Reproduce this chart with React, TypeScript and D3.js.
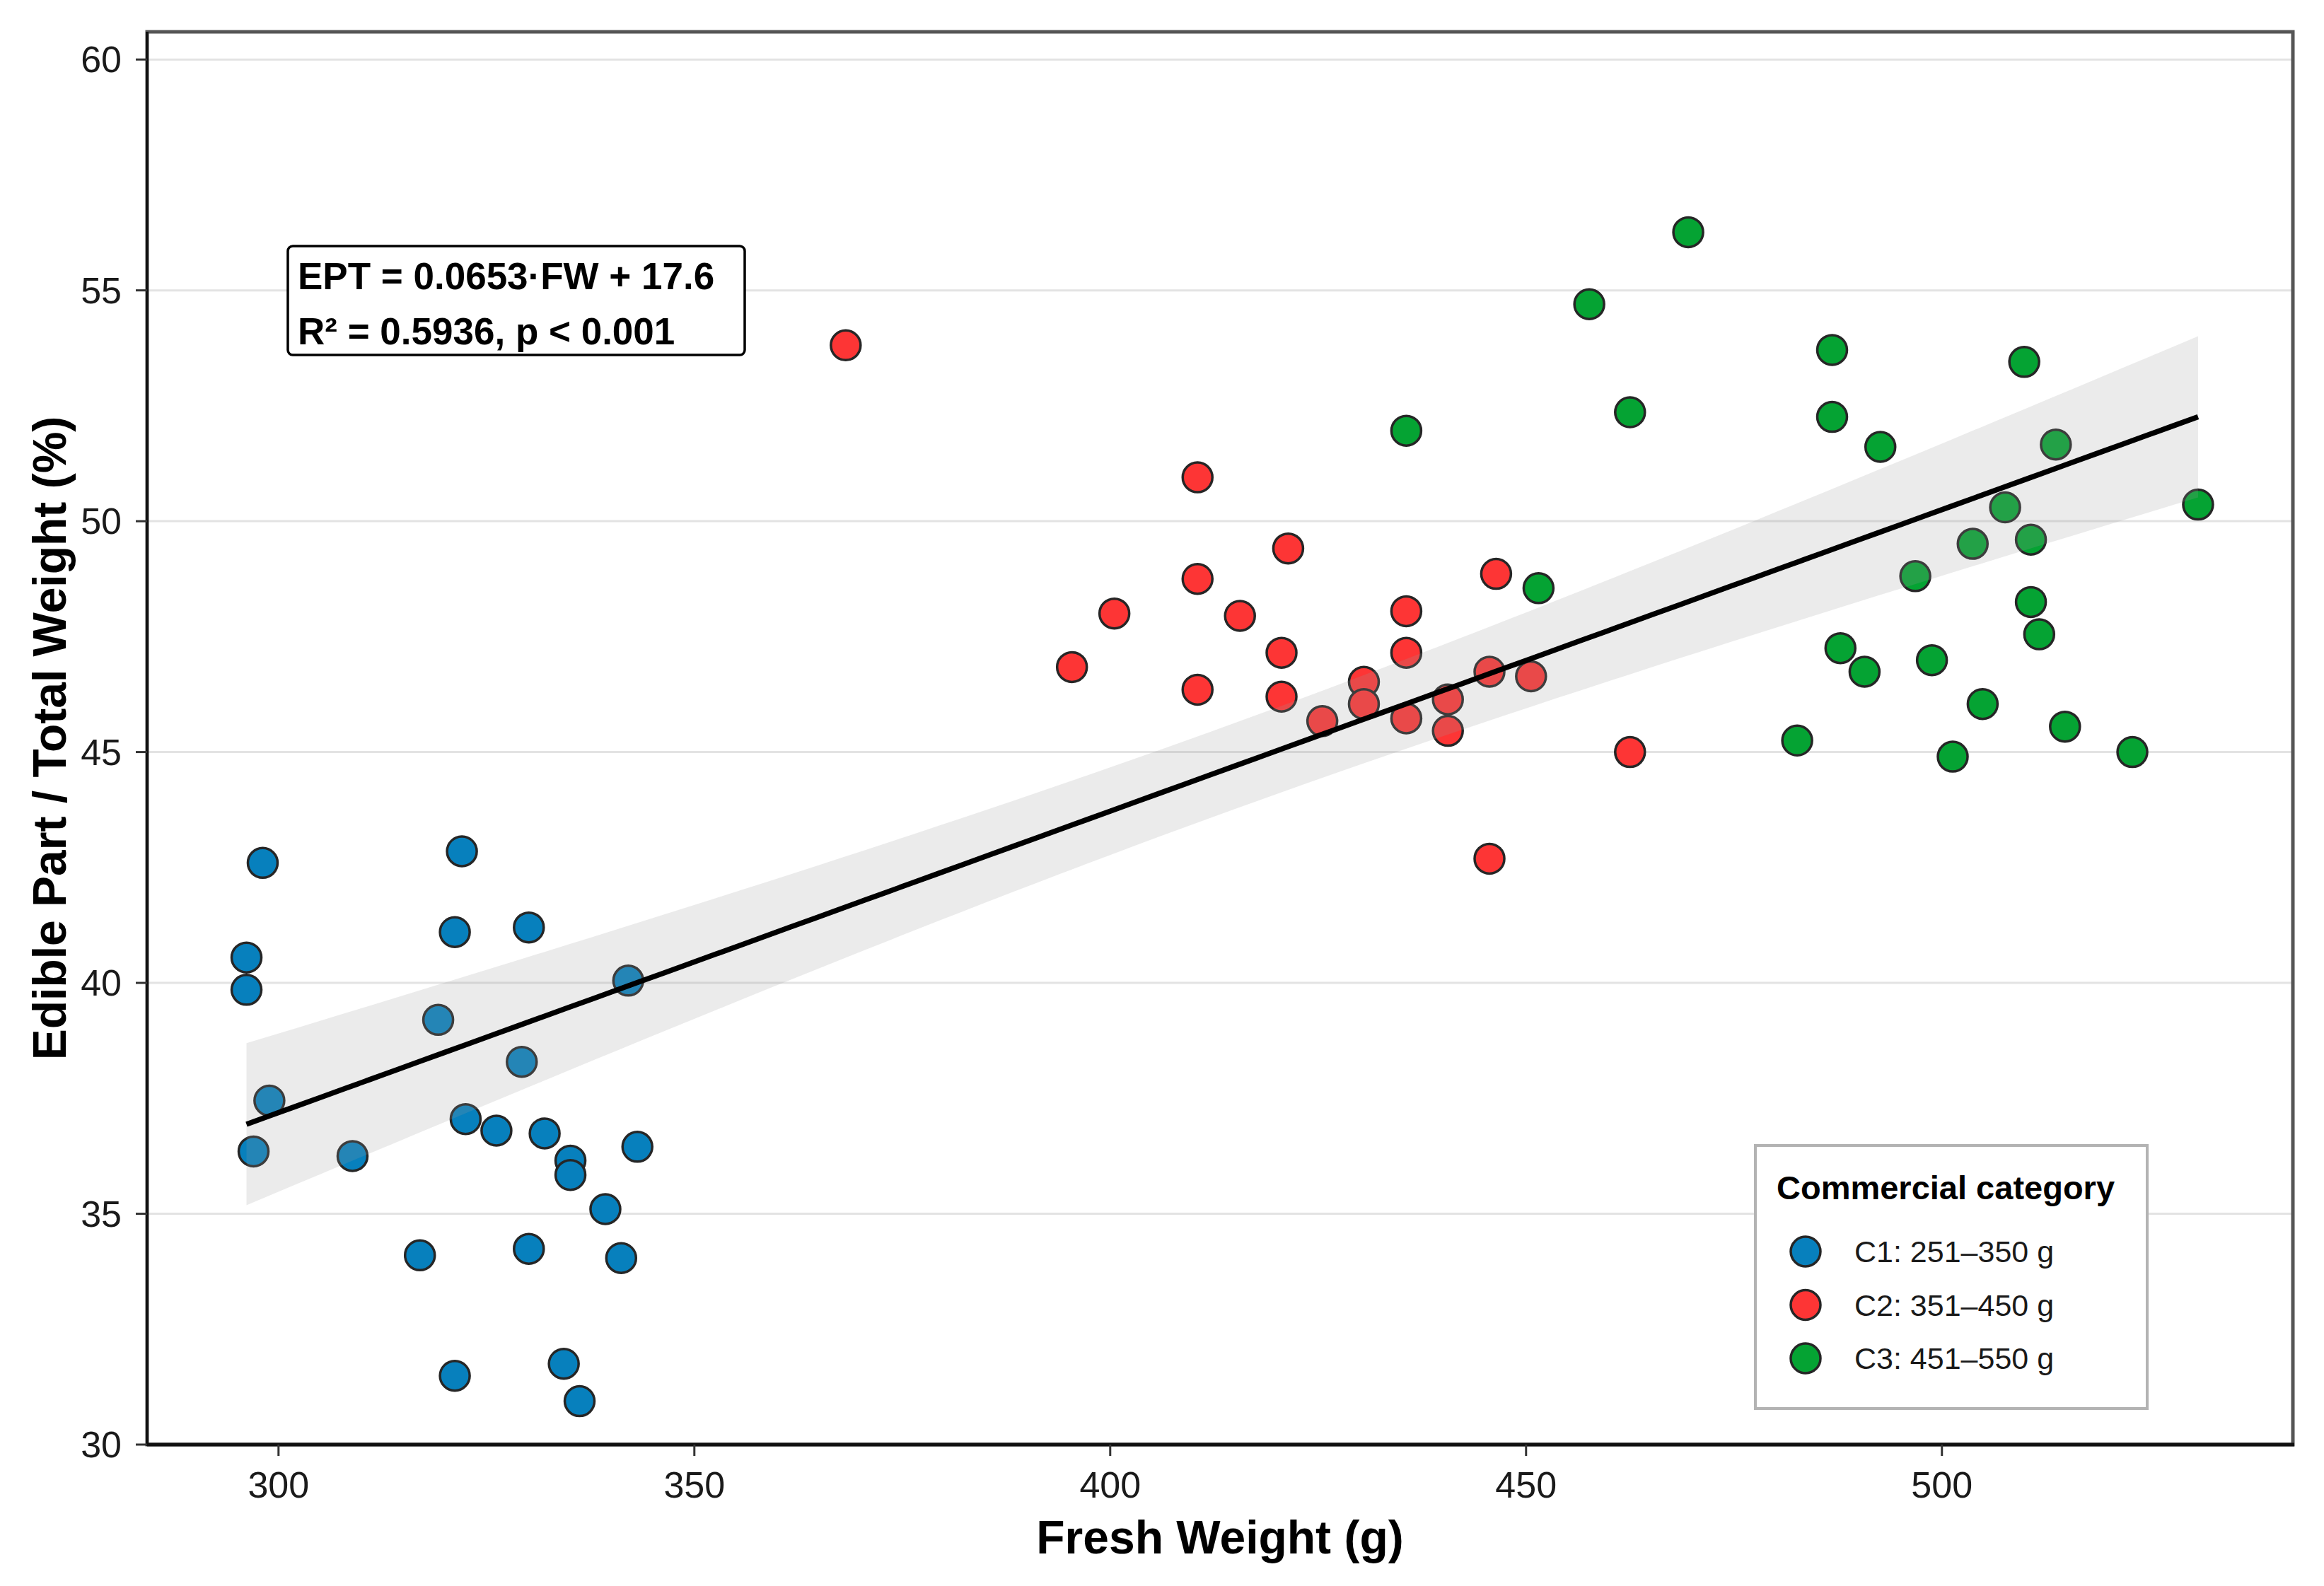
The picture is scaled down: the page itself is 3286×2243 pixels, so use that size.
import * as React from 'react'
import * as d3 from 'd3'

const width = 3286
const height = 2243
const margin = { top: 45, right: 44, bottom: 200, left: 208 }
const font = 'Liberation Sans, Arial, sans-serif'

// category C1: 251-350 g
const c1Weight = [298.1, 322.05, 296.15, 296.15, 321.2, 330.1, 342.05, 319.2, 329.25, 298.9, 297.0, 308.9, 322.5, 326.2, 332.0, 335.1, 335.1, 343.15, 339.3, 317.0, 330.1, 341.2, 321.2, 334.3, 336.2]
const c1Ept = [42.6, 42.85, 40.55, 39.85, 41.1, 41.2, 40.05, 39.2, 38.29, 37.45, 36.35, 36.25, 37.05, 36.8, 36.74, 36.15, 35.84, 36.45, 35.1, 34.1, 34.24, 34.04, 31.49, 31.75, 30.94]

// category C2: 351-450 g
const c2Weight = [368.2, 410.5, 421.4, 410.5, 400.5, 415.6, 446.4, 435.6, 420.6, 435.6, 395.4, 410.5, 420.6, 430.5, 430.5, 425.5, 435.6, 440.6, 440.6, 445.6, 450.6, 445.6, 462.5]
const c2Ept = [53.81, 50.95, 49.41, 48.75, 48.0, 47.95, 48.86, 48.05, 47.15, 47.15, 46.84, 46.35, 46.2, 46.52, 46.04, 45.67, 45.73, 46.14, 45.46, 46.74, 46.64, 42.69, 45.0]

// category C3: 451-550 g
const c3Weight = [469.5, 457.6, 486.8, 509.9, 462.5, 486.8, 435.6, 492.6, 513.7, 507.6, 530.8, 503.7, 510.7, 496.8, 451.5, 510.7, 511.7, 487.8, 490.7, 498.8, 504.9, 514.8, 482.6, 501.3, 522.9]
const c3Ept = [56.26, 54.7, 53.71, 53.45, 52.36, 52.26, 51.96, 51.61, 51.66, 50.3, 50.36, 49.51, 49.6, 48.81, 48.55, 48.25, 47.55, 47.25, 46.74, 46.99, 46.04, 45.55, 45.25, 44.9, 45.0]

const categories = ['C1: 251–350 g', 'C2: 351–450 g', 'C3: 451–550 g']
const colors = ['#0780BD', '#FD3535', '#05A333']
const xTicks = [300, 350, 400, 450, 500]
const yTicks = [30, 35, 40, 45, 50, 55, 60]
const slope = 0.0653
const intercept = 17.6
const eqLines = ['EPT = 0.0653·FW + 17.6', 'R² = 0.5936, p < 0.001']

const groups = [
  { w: c1Weight, e: c1Ept },
  { w: c2Weight, e: c2Ept },
  { w: c3Weight, e: c3Ept },
]

const App = () => {
  const xScale = d3.scaleLinear().domain([284.2, 542.2]).range([margin.left, width - margin.right])
  const yScale = d3.scaleLinear().domain([30, 60.6]).range([height - margin.bottom, margin.top])

  const points = groups.flatMap((g, gi) => g.w.map((w, i) => ({ w, e: g.e[i], gi })))

  // lm confidence band around the reported fit
  const n = points.length
  const xbar = d3.mean(points, d => d.w)
  const sxx = d3.sum(points, d => (d.w - xbar) ** 2)
  const sse = d3.sum(points, d => (d.e - (slope * d.w + intercept)) ** 2)
  const s = Math.sqrt(sse / (n - 2))
  const tval = 1.994
  const [xmin, xmax] = d3.extent(points, d => d.w)
  const fitX = d3.range(80).map(i => xmin + ((xmax - xmin) * i) / 79)
  const fit = fitX.map(x => {
    const yhat = slope * x + intercept
    const se = s * Math.sqrt(1 / n + (x - xbar) ** 2 / sxx)
    return { x, yhat, lo: yhat - tval * se, hi: yhat + tval * se }
  })

  const band = d3
    .area<any>()
    .x(d => xScale(d.x))
    .y0(d => yScale(d.lo))
    .y1(d => yScale(d.hi))
  const line = d3
    .line<any>()
    .x(d => xScale(d.x))
    .y(d => yScale(d.yhat))

  const left = margin.left
  const right = width - margin.right
  const top = margin.top
  const bottom = height - margin.bottom

  return (
    <svg width={width} height={height} style={{ position: 'absolute', left: 0, top: 0, background: '#fff' }} fontFamily={font}>
      <rect x={0} y={0} width={width} height={height} fill="#fff" />
      {yTicks.map(t => (
        <line key={t} x1={left} x2={right} y1={yScale(t)} y2={yScale(t)} stroke="#E3E3E3" strokeWidth={3} />
      ))}
      {points.map((p, i) => (
        <circle key={i} cx={xScale(p.w)} cy={yScale(p.e)} r={21} fill={colors[p.gi]} stroke="#262626" strokeWidth={3.5} />
      ))}
      <path d={band(fit)} fill="#999" fillOpacity={0.2} />
      <path d={line(fit)} fill="none" stroke="#000" strokeWidth={7.5} />

      <rect x={left} y={top} width={right - left} height={bottom - top} fill="none" stroke="#555" strokeWidth={5} />
      <line x1={left} x2={right + 2} y1={bottom} y2={bottom} stroke="#111" strokeWidth={5} />
      <line x1={left} x2={left} y1={top} y2={bottom + 2} stroke="#111" strokeWidth={4} />

      {xTicks.map(t => (
        <g key={t}>
          <line x1={xScale(t)} x2={xScale(t)} y1={bottom} y2={bottom + 16} stroke="#333" strokeWidth={3} />
          <text x={xScale(t)} y={2118} textAnchor="middle" fontSize={52} fill="#1a1a1a">{t}</text>
        </g>
      ))}
      {yTicks.map(t => (
        <g key={t}>
          <line x1={left - 16} x2={left} y1={yScale(t)} y2={yScale(t)} stroke="#333" strokeWidth={3} />
          <text x={172} y={yScale(t)} textAnchor="end" dominantBaseline="central" fontSize={52} fill="#1a1a1a">{t}</text>
        </g>
      ))}

      <text x={(left + right) / 2} y={2197} textAnchor="middle" fontSize={66} fontWeight="bold" fill="#000">Fresh Weight (g)</text>
      <text transform={`translate(70, ${(top + bottom) / 2}) rotate(-90)`} textAnchor="middle" dominantBaseline="central" fontSize={66} fontWeight="bold" fill="#000">
        Edible Part / Total Weight (%)
      </text>

      <rect x={407} y={348} width={646} height={154} rx={7} fill="#fff" stroke="#000" strokeWidth={3.5} />
      {eqLines.map((l, i) => (
        <text key={i} x={421} y={409 + i * 78} fontSize={53} fontWeight="bold" fill="#000">{l}</text>
      ))}

      <rect x={2482} y={1620} width={554} height={372} fill="#fff" stroke="#B3B3B3" strokeWidth={4} />
      <text x={2512} y={1696} fontSize={47} fontWeight="bold" fill="#000">Commercial category</text>
      {categories.map((c, i) => (
        <g key={c}>
          <circle cx={2553} cy={1770 + i * 75.5} r={21} fill={colors[i]} stroke="#262626" strokeWidth={3.5} />
          <text x={2622} y={1770 + i * 75.5} dominantBaseline="central" fontSize={43} fill="#1a1a1a">{c}</text>
        </g>
      ))}
    </svg>
  )
}

export default App
